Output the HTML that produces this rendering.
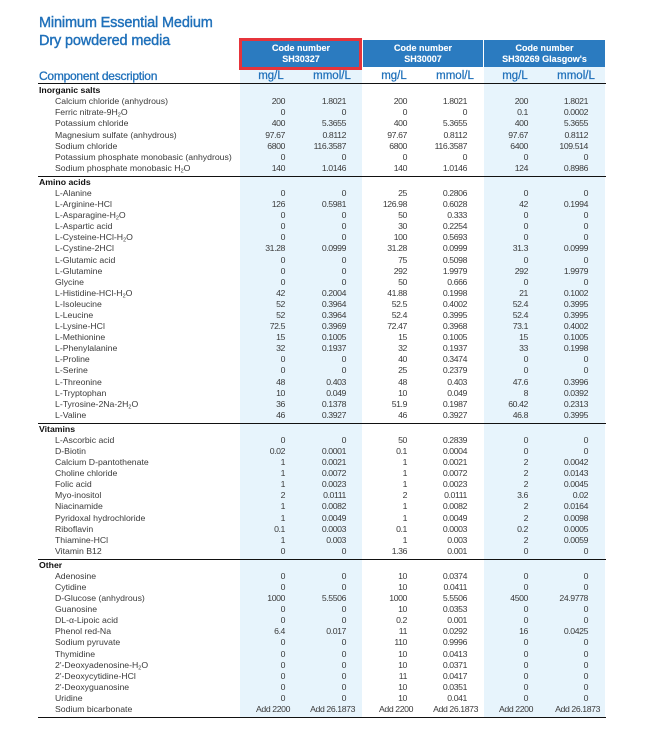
<!DOCTYPE html>
<html><head><meta charset="utf-8">
<style>
html,body{margin:0;padding:0}
body{width:645px;height:752px;position:relative;background:#fff;font-family:"Liberation Sans",sans-serif;overflow:hidden}
.t{position:absolute;left:39px;color:#1f70ba;font-size:14.5px;line-height:18px;white-space:nowrap;-webkit-text-stroke:0.4px #1f70ba;letter-spacing:-0.15px}
.cd{position:absolute;left:39px;top:69px;color:#1f70ba;font-size:12px;line-height:14px;letter-spacing:-0.25px;-webkit-text-stroke:0.3px #1f70ba;white-space:nowrap}
.box{position:absolute;top:40px;height:27px;background:#2b7bc0;color:#fff;font-weight:bold;font-size:9px;line-height:11px;text-align:center;box-sizing:border-box;padding-top:3.2px;white-space:nowrap;-webkit-text-stroke:0.1px #fff}
.red{position:absolute;left:239px;top:38px;width:123px;height:32px;border:3px solid #e6343b;box-sizing:border-box}
.lb{position:absolute;top:67px;height:651px;background:#e7f4fc}
.u{position:absolute;top:69px;width:60px;text-align:center;color:#1f70ba;font-size:11.5px;line-height:14px;-webkit-text-stroke:0.25px #1f70ba}
#tb{position:absolute;left:38px;top:82.8px;width:568px}
.ln{height:1.5px;background:#111}
.pd{height:1.7px}
.h{height:10.8px;line-height:10.8px;font-size:8.7px;font-weight:bold;color:#111;padding-left:1px;white-space:nowrap}
.h.f{height:12px;line-height:12px}
.r{display:grid;grid-template-columns:202px 61px 61px 61px 61px 61px 61px;height:11.1px;line-height:11.1px;font-size:8.7px;color:#3a3a3a;white-space:nowrap}
.r span{text-align:right;letter-spacing:-0.4px}
.r span:nth-child(1){text-align:left;padding-left:17px;letter-spacing:0}
.r span:nth-child(2){padding-right:16px}
.r span:nth-child(3){padding-right:16px}
.r span:nth-child(4){padding-right:16px}
.r span:nth-child(5){padding-right:17px}
.r span:nth-child(6){padding-right:17px}
.r span:nth-child(7){padding-right:18px}
.r.add span:nth-child(2){padding-right:11px}
.r.add span:nth-child(3){padding-right:7px}
.r.add span:nth-child(4){padding-right:10px}
.r.add span:nth-child(5){padding-right:6px}
.r.add span:nth-child(6){padding-right:12px}
.r.add span:nth-child(7){padding-right:6px}
sub{font-size:5.5px;vertical-align:-1.5px;line-height:0}
</style></head>
<body>
<div class="t" style="top:13.5px">Minimum Essential Medium</div>
<div class="t" style="top:31.5px">Dry powdered media</div>

<div class="lb" style="left:240px;width:122px"></div>
<div class="lb" style="left:484px;width:121px"></div>

<div class="box" style="left:240px;width:122px">Code number<br>SH30327</div>
<div class="box" style="left:363px;width:120px">Code number<br>SH30007</div>
<div class="box" style="left:484px;width:121px">Code number<br>SH30269 Glasgow's</div>
<div class="red"></div>

<div class="cd">Component description</div>
<div class="u" style="left:241px">mg/L</div>
<div class="u" style="left:302px">mmol/L</div>
<div class="u" style="left:364px">mg/L</div>
<div class="u" style="left:425px">mmol/L</div>
<div class="u" style="left:485px">mg/L</div>
<div class="u" style="left:546px">mmol/L</div>

<div id="tb">
<div class="ln"></div>
<div class="h f">Inorganic salts</div>
<div class="r"><span>Calcium chloride (anhydrous)</span><span>200</span><span>1.8021</span><span>200</span><span>1.8021</span><span>200</span><span>1.8021</span></div>
<div class="r"><span>Ferric nitrate-9H<sub>2</sub>O</span><span>0</span><span>0</span><span>0</span><span>0</span><span>0.1</span><span>0.0002</span></div>
<div class="r"><span>Potassium chloride</span><span>400</span><span>5.3655</span><span>400</span><span>5.3655</span><span>400</span><span>5.3655</span></div>
<div class="r"><span>Magnesium sulfate (anhydrous)</span><span>97.67</span><span>0.8112</span><span>97.67</span><span>0.8112</span><span>97.67</span><span>0.8112</span></div>
<div class="r"><span>Sodium chloride</span><span>6800</span><span>116.3587</span><span>6800</span><span>116.3587</span><span>6400</span><span>109.514</span></div>
<div class="r"><span>Potassium phosphate monobasic (anhydrous)</span><span>0</span><span>0</span><span>0</span><span>0</span><span>0</span><span>0</span></div>
<div class="r"><span>Sodium phosphate monobasic H<sub>2</sub>O</span><span>140</span><span>1.0146</span><span>140</span><span>1.0146</span><span>124</span><span>0.8986</span></div>
<div class="pd"></div>
<div class="ln"></div>
<div class="h">Amino acids</div>
<div class="r"><span>L-Alanine</span><span>0</span><span>0</span><span>25</span><span>0.2806</span><span>0</span><span>0</span></div>
<div class="r"><span>L-Arginine-HCl</span><span>126</span><span>0.5981</span><span>126.98</span><span>0.6028</span><span>42</span><span>0.1994</span></div>
<div class="r"><span>L-Asparagine-H<sub>2</sub>O</span><span>0</span><span>0</span><span>50</span><span>0.333</span><span>0</span><span>0</span></div>
<div class="r"><span>L-Aspartic acid</span><span>0</span><span>0</span><span>30</span><span>0.2254</span><span>0</span><span>0</span></div>
<div class="r"><span>L-Cysteine-HCl-H<sub>2</sub>O</span><span>0</span><span>0</span><span>100</span><span>0.5693</span><span>0</span><span>0</span></div>
<div class="r"><span>L-Cystine-2HCl</span><span>31.28</span><span>0.0999</span><span>31.28</span><span>0.0999</span><span>31.3</span><span>0.0999</span></div>
<div class="r"><span>L-Glutamic acid</span><span>0</span><span>0</span><span>75</span><span>0.5098</span><span>0</span><span>0</span></div>
<div class="r"><span>L-Glutamine</span><span>0</span><span>0</span><span>292</span><span>1.9979</span><span>292</span><span>1.9979</span></div>
<div class="r"><span>Glycine</span><span>0</span><span>0</span><span>50</span><span>0.666</span><span>0</span><span>0</span></div>
<div class="r"><span>L-Histidine-HCl-H<sub>2</sub>O</span><span>42</span><span>0.2004</span><span>41.88</span><span>0.1998</span><span>21</span><span>0.1002</span></div>
<div class="r"><span>L-Isoleucine</span><span>52</span><span>0.3964</span><span>52.5</span><span>0.4002</span><span>52.4</span><span>0.3995</span></div>
<div class="r"><span>L-Leucine</span><span>52</span><span>0.3964</span><span>52.4</span><span>0.3995</span><span>52.4</span><span>0.3995</span></div>
<div class="r"><span>L-Lysine-HCl</span><span>72.5</span><span>0.3969</span><span>72.47</span><span>0.3968</span><span>73.1</span><span>0.4002</span></div>
<div class="r"><span>L-Methionine</span><span>15</span><span>0.1005</span><span>15</span><span>0.1005</span><span>15</span><span>0.1005</span></div>
<div class="r"><span>L-Phenylalanine</span><span>32</span><span>0.1937</span><span>32</span><span>0.1937</span><span>33</span><span>0.1998</span></div>
<div class="r"><span>L-Proline</span><span>0</span><span>0</span><span>40</span><span>0.3474</span><span>0</span><span>0</span></div>
<div class="r"><span>L-Serine</span><span>0</span><span>0</span><span>25</span><span>0.2379</span><span>0</span><span>0</span></div>
<div class="r"><span>L-Threonine</span><span>48</span><span>0.403</span><span>48</span><span>0.403</span><span>47.6</span><span>0.3996</span></div>
<div class="r"><span>L-Tryptophan</span><span>10</span><span>0.049</span><span>10</span><span>0.049</span><span>8</span><span>0.0392</span></div>
<div class="r"><span>L-Tyrosine-2Na-2H<sub>2</sub>O</span><span>36</span><span>0.1378</span><span>51.9</span><span>0.1987</span><span>60.42</span><span>0.2313</span></div>
<div class="r"><span>L-Valine</span><span>46</span><span>0.3927</span><span>46</span><span>0.3927</span><span>46.8</span><span>0.3995</span></div>
<div class="pd"></div>
<div class="ln"></div>
<div class="h">Vitamins</div>
<div class="r"><span>L-Ascorbic acid</span><span>0</span><span>0</span><span>50</span><span>0.2839</span><span>0</span><span>0</span></div>
<div class="r"><span>D-Biotin</span><span>0.02</span><span>0.0001</span><span>0.1</span><span>0.0004</span><span>0</span><span>0</span></div>
<div class="r"><span>Calcium D-pantothenate</span><span>1</span><span>0.0021</span><span>1</span><span>0.0021</span><span>2</span><span>0.0042</span></div>
<div class="r"><span>Choline chloride</span><span>1</span><span>0.0072</span><span>1</span><span>0.0072</span><span>2</span><span>0.0143</span></div>
<div class="r"><span>Folic acid</span><span>1</span><span>0.0023</span><span>1</span><span>0.0023</span><span>2</span><span>0.0045</span></div>
<div class="r"><span>Myo-inositol</span><span>2</span><span>0.0111</span><span>2</span><span>0.0111</span><span>3.6</span><span>0.02</span></div>
<div class="r"><span>Niacinamide</span><span>1</span><span>0.0082</span><span>1</span><span>0.0082</span><span>2</span><span>0.0164</span></div>
<div class="r"><span>Pyridoxal hydrochloride</span><span>1</span><span>0.0049</span><span>1</span><span>0.0049</span><span>2</span><span>0.0098</span></div>
<div class="r"><span>Riboflavin</span><span>0.1</span><span>0.0003</span><span>0.1</span><span>0.0003</span><span>0.2</span><span>0.0005</span></div>
<div class="r"><span>Thiamine-HCl</span><span>1</span><span>0.003</span><span>1</span><span>0.003</span><span>2</span><span>0.0059</span></div>
<div class="r"><span>Vitamin B12</span><span>0</span><span>0</span><span>1.36</span><span>0.001</span><span>0</span><span>0</span></div>
<div class="pd"></div>
<div class="ln"></div>
<div class="h">Other</div>
<div class="r"><span>Adenosine</span><span>0</span><span>0</span><span>10</span><span>0.0374</span><span>0</span><span>0</span></div>
<div class="r"><span>Cytidine</span><span>0</span><span>0</span><span>10</span><span>0.0411</span><span>0</span><span>0</span></div>
<div class="r"><span>D-Glucose (anhydrous)</span><span>1000</span><span>5.5506</span><span>1000</span><span>5.5506</span><span>4500</span><span>24.9778</span></div>
<div class="r"><span>Guanosine</span><span>0</span><span>0</span><span>10</span><span>0.0353</span><span>0</span><span>0</span></div>
<div class="r"><span>DL-α-Lipoic acid</span><span>0</span><span>0</span><span>0.2</span><span>0.001</span><span>0</span><span>0</span></div>
<div class="r"><span>Phenol red-Na</span><span>6.4</span><span>0.017</span><span>11</span><span>0.0292</span><span>16</span><span>0.0425</span></div>
<div class="r"><span>Sodium pyruvate</span><span>0</span><span>0</span><span>110</span><span>0.9996</span><span>0</span><span>0</span></div>
<div class="r"><span>Thymidine</span><span>0</span><span>0</span><span>10</span><span>0.0413</span><span>0</span><span>0</span></div>
<div class="r"><span>2'-Deoxyadenosine-H<sub>2</sub>O</span><span>0</span><span>0</span><span>10</span><span>0.0371</span><span>0</span><span>0</span></div>
<div class="r"><span>2'-Deoxycytidine-HCl</span><span>0</span><span>0</span><span>11</span><span>0.0417</span><span>0</span><span>0</span></div>
<div class="r"><span>2'-Deoxyguanosine</span><span>0</span><span>0</span><span>10</span><span>0.0351</span><span>0</span><span>0</span></div>
<div class="r"><span>Uridine</span><span>0</span><span>0</span><span>10</span><span>0.041</span><span>0</span><span>0</span></div>
<div class="r add"><span>Sodium bicarbonate</span><span>Add 2200</span><span>Add 26.1873</span><span>Add 2200</span><span>Add 26.1873</span><span>Add 2200</span><span>Add 26.1873</span></div>
<div class="pd"></div>
<div class="ln"></div>
</div>
</body></html>
